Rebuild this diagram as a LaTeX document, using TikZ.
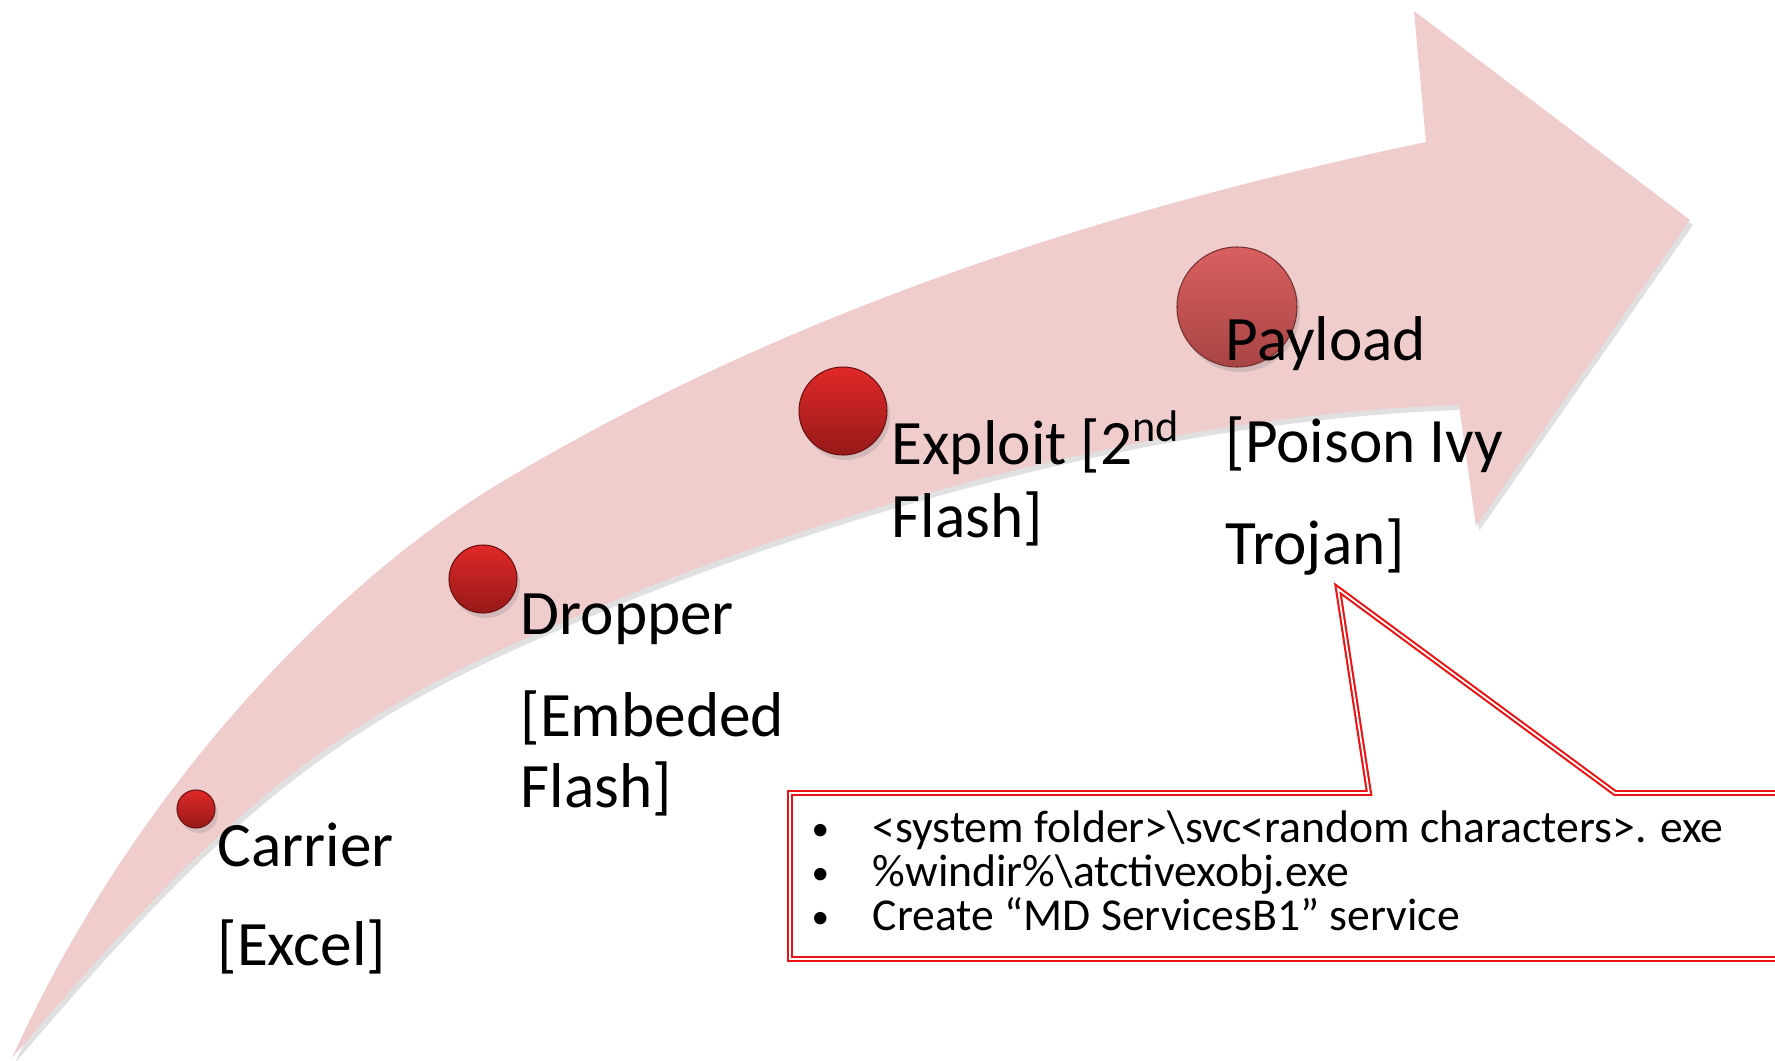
\documentclass[tikz,border=0pt]{standalone}
\usepackage{fontspec}
\setmainfont{Carlito}
\usepackage{tikz}
\usetikzlibrary{shapes,shadows}
\usepackage{xcolor}
\definecolor{arrowpink}{RGB}{240,205,205}
\definecolor{calloutred}{RGB}{235,20,20}
\definecolor{balltop}{RGB}{225,40,40}
\definecolor{ballbottom}{RGB}{150,25,25}
\definecolor{payloadtop}{RGB}{218,96,96}
\definecolor{payloadbottom}{RGB}{168,68,68}
\newcommand{\stagearrow}{(12,1058) .. controls (142,772) and (350,573) .. (500,483) .. controls (800,303) and (1126,205) .. (1426,142) -- (1414,11) -- (1690,220) -- (1476,526) -- (1459,405) .. controls (1159,414) and (800,512) .. (500,650) .. controls (300,742) and (192,847) .. (12,1058) -- cycle}

\begin{document}
\begin{tikzpicture}[x=0.1mm, y=-0.1mm,
  stage/.style={anchor=base west, inner sep=0pt, font=\fontsize{18pt}{20pt}\selectfont},
  item/.style={anchor=base west, inner sep=0pt, font=\fontsize{13pt}{15pt}\selectfont},
  ball/.style={circle, inner sep=0pt, draw=#1bottom!70!black, line width=.3pt, top color=#1top, bottom color=#1bottom,
    drop shadow={opacity=.25, shadow xshift=.3mm, shadow yshift=-.5mm}},
  callout/.style={draw=calloutred, line width=.6pt, double=white, double distance=.5pt, fill=white}]
\clip (0,0) rectangle (1775,1061);
% arrow with its shadow
\fill [shift={(3,5)}, black, opacity=.12] \stagearrow;
\fill [arrowpink] \stagearrow;
% stages
\node [ball=ball, minimum size=3.8mm] (carrierball) at (196,809) {};
\node [ball=ball, minimum size=6.8mm] (dropperball) at (483,579) {};
\node [ball=ball, minimum size=8.8mm] (exploitball) at (843,411) {};
\node [ball=payload, minimum size=12mm] (payloadball) at (1237,307) {};
\node [stage] (carrier) at (217,866) {Carrier};
\node [stage] (excel) at (217,965) {[Excel]};
\node [stage] (dropper) at (520,634) {Dropper};
\node [stage] (embeded) at (520,736) {[Embeded};
\node [stage] (dropflash) at (520,807) {Flash]};
\node [stage] (exploit) at (891,464) {Exploit [2\textsuperscript{nd}};
\node [stage] (exploitflash) at (891,537) {Flash]};
\node [stage] (payload) at (1225,360) {Payload};
\node [stage] (poison) at (1225,462) {[Poison Ivy};
\node [stage] (trojan) at (1225,564) {Trojan]};
% callout
\draw [callout] (790,793) -- (1369,793) -- (1338,589) -- (1615,793) -- (1800,793) -- (1800,959) -- (790,959) -- cycle;
\node [item, font=\fontsize{10pt}{12pt}\selectfont] (bulleta) at (811,840) {\textbullet};
\node [item, font=\fontsize{10pt}{12pt}\selectfont] (bulletb) at (811,884) {\textbullet};
\node [item, font=\fontsize{10pt}{12pt}\selectfont] (bulletc) at (811,928) {\textbullet};
\node [item] (folder) at (872,842) {<system folder>\textbackslash svc<random characters>. exe};
\node [item] (windir) at (872,886) {\%windir\%\textbackslash atctivexobj.exe};
\node [item] (service) at (872,930) {Create “MD ServicesB1” service};
\end{tikzpicture}
\end{document}
